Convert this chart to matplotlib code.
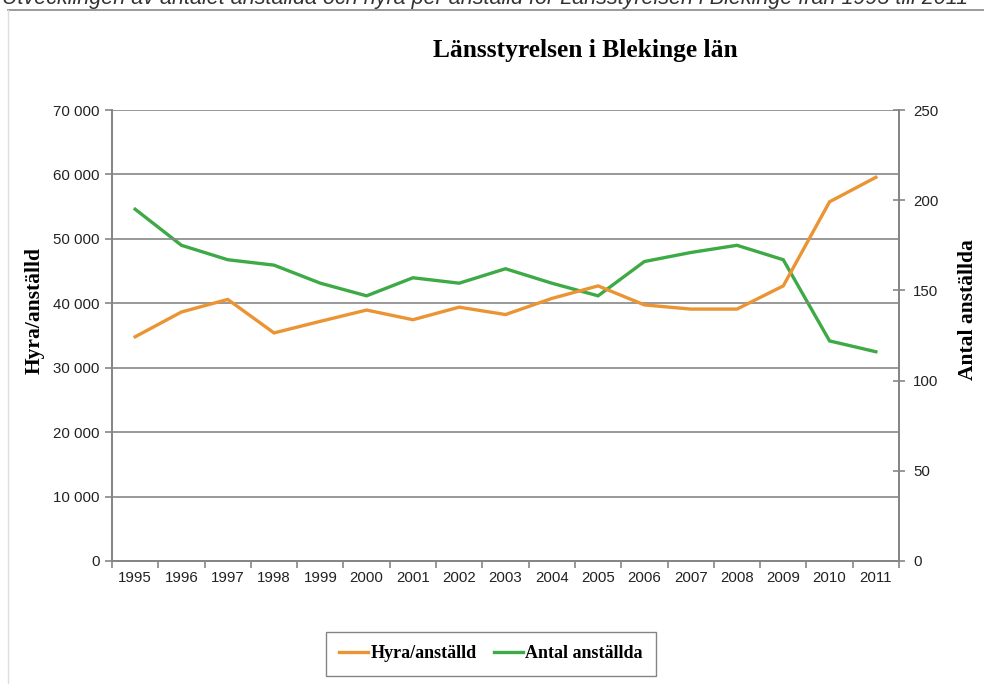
import matplotlib
matplotlib.use("Agg")
import matplotlib.pyplot as plt
from matplotlib.lines import Line2D
from matplotlib.ticker import FuncFormatter

# data
years = ["1995", "1996", "1997", "1998", "1999", "2000", "2001", "2002", "2003",
         "2004", "2005", "2006", "2007", "2008", "2009", "2010", "2011"]
hyra = [34800, 38650, 40600, 35400, 37200, 38950, 37450, 39400, 38250,
        40750, 42700, 39750, 39100, 39100, 42700, 55750, 59550]
antal = [195, 175, 167, 164, 154, 147, 157, 154, 162,
         154, 147, 166, 171, 175, 167, 122, 116]

orange = "#EB9433"
green = "#3DAA45"
gridc = "#868686"
sans = "Liberation Sans"
serif = "Liberation Serif"

fig = plt.figure(figsize=(9.84, 6.84), dpi=100)
W, H = 984, 684
ax = fig.add_axes([112 / W, 1 - 561 / H, (899 - 112) / W, (561 - 110) / H])
ax2 = ax.twinx()

x = list(range(len(years)))
l1, = ax.plot(x, hyra, color=orange, lw=2.4, solid_joinstyle="miter")
l2, = ax2.plot(x, antal, color=green, lw=2.4, solid_joinstyle="miter")

ax.set_xlim(-0.5, len(years) - 0.5)
ax.set_ylim(0, 70000)
ax2.set_ylim(0, 250)
ax.set_yticks(range(0, 70001, 10000))
ax2.set_yticks(range(0, 251, 50))
ax.yaxis.set_major_formatter(FuncFormatter(lambda v, p: f"{int(v):,}".replace(",", " ")))

ax.set_xticks(x)
ax.set_xticklabels(years)
ax.set_xticks([i - 0.5 for i in range(len(years) + 1)], minor=True)
ax.tick_params(axis="x", which="major", length=0, pad=7)
ax.tick_params(axis="x", which="minor", length=5, width=1.2, color=gridc, direction="out")
ax.tick_params(axis="y", length=5, width=1.2, color=gridc, direction="out", pad=4)
ax2.tick_params(axis="y", length=8, width=1.2, color=gridc, direction="inout", pad=6)
for a in (ax, ax2):
    for lab in a.get_xticklabels() + a.get_yticklabels():
        lab.set_fontfamily(sans)
        lab.set_fontsize(10.8)
        lab.set_color("#222222")

ax.grid(axis="y", color=gridc, lw=1.2)
ax.set_axisbelow(True)
for a in (ax, ax2):
    a.spines["top"].set_visible(False)
    for s in ("left", "right", "bottom"):
        a.spines[s].set_color(gridc)
        a.spines[s].set_linewidth(1.4)
ax.set_zorder(ax2.get_zorder() + 1)
ax.patch.set_visible(False)

fig.text(35 / W, 1 - 310 / H, "Hyra/anställd", rotation=90, ha="center", va="center",
         fontfamily=serif, fontweight="bold", fontsize=15.5)
fig.text(968 / W, 1 - 310 / H, "Antal anställda", rotation=90, ha="center", va="center",
         fontfamily=serif, fontweight="bold", fontsize=15.5)
fig.text(585 / W, 1 - 50 / H, "Länsstyrelsen i Blekinge län", ha="center", va="center",
         fontfamily=serif, fontweight="bold", fontsize=18.4)

leg = fig.legend([l1, l2], ["Hyra/anställd", "Antal anställda"], loc="center",
                 bbox_to_anchor=(491 / W, 1 - 654 / H), ncol=2, frameon=True,
                 fancybox=False, edgecolor="#666666", handlelength=1.6,
                 handletextpad=0.1, columnspacing=1.0, borderpad=0.75,
                 prop={"family": serif, "weight": "bold", "size": 13})
leg.get_frame().set_linewidth(1.0)

# outer frame of the original document and the clipped caption
fig.add_artist(Line2D([8 / W, 1], [1 - 9.5 / H] * 2, color="#8a8a8a", lw=1.2))
fig.add_artist(Line2D([8 / W] * 2, [0, 1 - 9.5 / H], color="#dddddd", lw=1.0))
fig.text(2 / W, 1 - 4 / H,
         "Utvecklingen av antalet anställda och hyra per anställd för Länsstyrelsen i Blekinge från 1995 till 2011",
         ha="left", va="baseline", fontfamily=sans, style="italic", fontsize=15.5, color="#333333")

fig.savefig("out.png", dpi=100, facecolor="white")
